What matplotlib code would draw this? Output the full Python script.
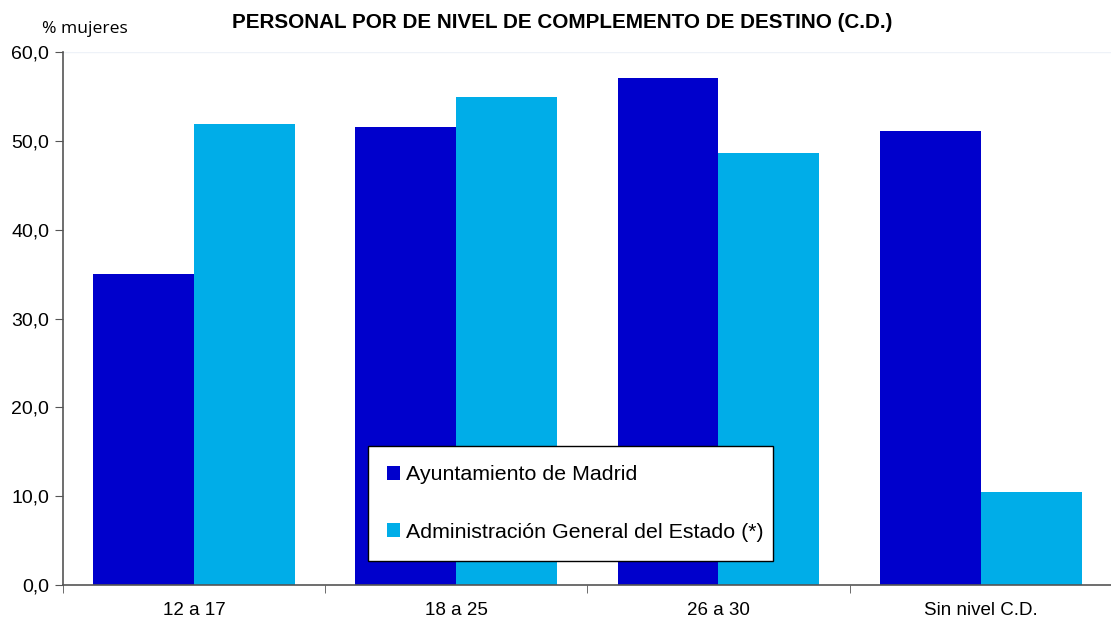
import matplotlib
matplotlib.use("Agg")
from matplotlib import pyplot as plt
import numpy as np

plt.rcParams['font.family'] = ['Liberation Sans', 'DejaVu Sans']

categorias = ["12 a 17", "18 a 25", "26 a 30", "Sin nivel C.D."]
madrid = [35.0, 51.6, 57.1, 51.1]
estado = [51.9, 54.9, 48.6, 10.5]
series = ["Ayuntamiento de Madrid", "Administración General del Estado (*)"]

fig = plt.figure(figsize=(11.11, 6.19), dpi=100)
ax = fig.add_axes([0.0567, 0.0549, 0.944, 0.861])

x = np.arange(len(categorias))
w = 0.385
ax.bar(x - w / 2, madrid, w, color="#0000CC", label=series[0])
ax.bar(x + w / 2, estado, w, color="#00ADE8", label=series[1])

ax.set_xlim(-0.5, len(categorias) - 0.5)
ax.set_ylim(0, 60)
ax.set_yticks(np.arange(0, 61, 10))
ax.set_yticklabels([f"{v:.1f}".replace(".", ",") for v in np.arange(0, 61, 10)], fontsize=14)
ax.set_xticks(x)
ax.set_xticklabels(categorias, fontsize=13.5)
ax.tick_params(axis='x', length=0, pad=12)
ax.set_xticks(np.arange(-0.5, len(categorias), 1), minor=True)
ax.tick_params(axis='x', which='minor', length=6, color="#555555", direction='out')
ax.tick_params(axis='y', length=6, color="#555555", direction='out', pad=4)

for s in ["top", "right"]:
    ax.spines[s].set_visible(False)
for s in ["left", "bottom"]:
    ax.spines[s].set_color("#555555")
    ax.spines[s].set_linewidth(1.2)

ax.axhline(60, color="#eef2f8", lw=1, zorder=0)

leg = ax.legend(loc="lower left", bbox_to_anchor=(0.291, 0.045, 0.386, 0.225),
                mode="expand", fontsize=15.4, frameon=True, fancybox=False,
                framealpha=1, edgecolor="black", handlelength=0.6, handleheight=0.6,
                handletextpad=0.25, labelspacing=1.8, borderpad=0.9, borderaxespad=0)
leg.get_frame().set_linewidth(1.0)

fig.text(0.506, 0.963, "PERSONAL POR DE NIVEL DE COMPLEMENTO DE DESTINO (C.D.)",
         ha="center", va="center", fontsize=14.9, fontweight="bold")
fig.text(0.038, 0.953, "% mujeres", ha="left", va="center", fontsize=12.6,
         family=["Open Sans", "DejaVu Sans"])

fig.savefig("out.png", dpi=100)
